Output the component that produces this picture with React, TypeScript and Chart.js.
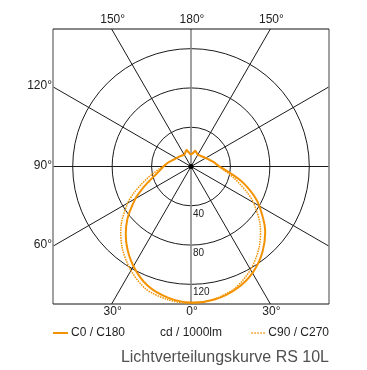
import React, { useEffect, useRef } from "react";
import { Chart, registerables } from "chart.js";

Chart.register(...registerables);

// angles measured from nadir (0°) up to zenith (180°)
const angles = [0, 10, 20, 30, 40, 50, 60, 65, 70, 75, 80, 85, 90, 95, 100, 110, 120, 130, 140, 150, 155, 160, 165, 170, 175, 180];
// cd/1000lm
const c0 = [138.5, 137.5, 133, 125, 113, 98, 80, 70.5, 60.5, 50.5, 41, 34, 29, 26, 24, 20, 17.5, 15.5, 14.5, 14, 14.5, 15.5, 16.5, 14.5, 13, 12];
const c180 = [138.5, 135.5, 129, 117, 102, 84.5, 65, 55, 46, 39, 34, 30.5, 28, 25.5, 23.5, 19.5, 17, 15.5, 14.5, 14, 14.5, 16, 17.5, 15, 13, 12];
const c90 = [139.5, 137, 131.5, 121, 107.5, 91.5, 73, 63, 53, 45, 38, 32, 28, 25.5, 23.5, 19.5, 17, 15.5, 14.5, 14, 14.5, 15.5, 16.5, 15, 13, 12.5];
const c270 = [139.5, 137.5, 133, 122, 108.5, 92.5, 74, 64, 54, 45.5, 38.5, 33, 28.5, 25.5, 23.5, 19.5, 17, 15.5, 14.5, 14, 14.5, 16, 17.5, 15, 13, 12.5];

const maxValue = 140;
const ringValues = [40, 80, 120];
const ringLabels = ["40", "80", "120"];
const spokeAngles = [30, 60, 120, 150];
const angleLabelAngles = [150, 180, 150, 120, 90, 60, 30, 0, 30];
const angleLabelSides = [-1, 0, 1, -1, -1, -1, -1, 0, 1];
const seriesNames = ["C0 / C180", "C90 / C270"];
const unitLabel = "cd / 1000lm";
const titleText = "Lichtverteilungskurve RS 10L";

const ORANGE = "#f39200";
const FONT = "'Liberation Sans', Arial, Helvetica, sans-serif";

function toPoints(left: number[], right: number[]) {
  const pts: { x: number; y: number }[] = [];
  for (let i = angles.length - 1; i >= 0; i--) {
    const a = (angles[i] * Math.PI) / 180;
    pts.push({ x: -left[i] * Math.sin(a), y: -left[i] * Math.cos(a) });
  }
  for (let i = 1; i < angles.length; i++) {
    const a = (angles[i] * Math.PI) / 180;
    pts.push({ x: right[i] * Math.sin(a), y: -right[i] * Math.cos(a) });
  }
  return pts;
}

const polarGrid = {
  id: "polarGrid",
  beforeDatasetsDraw(chart: any) {
    const { ctx, chartArea, scales } = chart;
    const xs = scales.x;
    const ys = scales.y;
    const cx = xs.getPixelForValue(0);
    const cy = ys.getPixelForValue(0);
    const { left, right, top, bottom } = chartArea;
    ctx.save();
    ctx.beginPath();
    ctx.rect(left, top, right - left, bottom - top);
    ctx.clip();
    ctx.strokeStyle = "#1a1a1a";
    ctx.lineWidth = 1;
    // rings
    ringValues.forEach((r) => {
      const rx = xs.getPixelForValue(r) - cx;
      const ry = cy - ys.getPixelForValue(r);
      ctx.beginPath();
      ctx.ellipse(cx, cy, rx, ry, 0, 0, Math.PI * 2);
      ctx.stroke();
    });
    // spokes
    const L = 1000;
    spokeAngles.forEach((deg) => {
      const a = (deg * Math.PI) / 180;
      [-1, 1].forEach((s) => {
        ctx.beginPath();
        ctx.moveTo(cx, cy);
        ctx.lineTo(cx + s * Math.sin(a) * L, cy + Math.cos(a) * L);
        ctx.stroke();
      });
    });
    // horizontal 90° line
    ctx.beginPath();
    ctx.moveTo(left, cy);
    ctx.lineTo(right, cy);
    ctx.stroke();
    ctx.restore();

    ctx.save();
    // vertical 0/180 line (gray)
    ctx.strokeStyle = "#8a8a8a";
    ctx.lineWidth = 1.6;
    ctx.beginPath();
    ctx.moveTo(cx, top);
    ctx.lineTo(cx, bottom);
    ctx.stroke();
    // left/right borders (gray)
    ctx.beginPath();
    ctx.moveTo(left, top);
    ctx.lineTo(left, bottom);
    ctx.moveTo(right, top);
    ctx.lineTo(right, bottom);
    ctx.stroke();
    // top/bottom borders (black)
    ctx.strokeStyle = "#111";
    ctx.lineWidth = 1;
    ctx.beginPath();
    ctx.moveTo(left, top);
    ctx.lineTo(right, top);
    ctx.moveTo(left, bottom);
    ctx.lineTo(right, bottom);
    ctx.stroke();

    // ring labels
    ctx.fillStyle = "#222";
    ctx.font = `10px ${FONT}`;
    ctx.textAlign = "left";
    ctx.textBaseline = "top";
    ringValues.forEach((r, i) => {
      const y = ys.getPixelForValue(-r);
      ctx.fillText(ringLabels[i], cx + 2, y + 3);
    });

    // angle labels
    ctx.font = `12px ${FONT}`;
    angleLabelAngles.forEach((deg, i) => {
      const s = angleLabelSides[i];
      const a = (deg * Math.PI) / 180;
      const dx = s * Math.sin(a);
      const dy = Math.cos(a);
      const tX = Math.abs(dx) < 1e-9 ? Infinity : dx > 0 ? (right - cx) / dx : (left - cx) / dx;
      const tY = Math.abs(dy) < 1e-9 ? Infinity : dy > 0 ? (bottom - cy) / dy : (top - cy) / dy;
      const text = `${deg}°`;
      if (tY <= tX) {
        const x = cx + dx * tY;
        ctx.textAlign = "center";
        ctx.textBaseline = "middle";
        ctx.fillText(text, x + 1, dy > 0 ? bottom + 8 : top - 9);
      } else {
        const y = cy + dy * tX;
        ctx.textAlign = dx < 0 ? "right" : "left";
        ctx.textBaseline = "middle";
        ctx.fillText(text, dx < 0 ? left - 1 : right + 2, y - 1);
      }
    });
    ctx.restore();
  },
  afterDatasetsDraw(chart: any) {
    const { ctx, chartArea, scales } = chart;
    const cx = scales.x.getPixelForValue(0);
    const cy = scales.y.getPixelForValue(0);
    const { left, right, bottom } = chartArea;
    ctx.save();
    // center dot
    ctx.fillStyle = "#000";
    ctx.beginPath();
    ctx.arc(cx, cy, 2.5, 0, Math.PI * 2);
    ctx.fill();

    // legend
    const ly = bottom + 29;
    ctx.font = `12px ${FONT}`;
    ctx.textBaseline = "middle";
    ctx.strokeStyle = ORANGE;
    ctx.lineWidth = 2;
    ctx.beginPath();
    ctx.moveTo(left, ly);
    ctx.lineTo(left + 15, ly);
    ctx.stroke();
    ctx.fillStyle = "#1e1e1e";
    ctx.textAlign = "left";
    ctx.fillText(seriesNames[0], left + 18, ly);

    ctx.textAlign = "center";
    ctx.fillText(unitLabel, cx, ly);

    ctx.textAlign = "right";
    ctx.fillText(seriesNames[1], right, ly);
    const w = ctx.measureText(seriesNames[1]).width;
    ctx.lineWidth = 1.5;
    ctx.setLineDash([1.5, 1.5]);
    ctx.beginPath();
    ctx.moveTo(right - w - 17, ly);
    ctx.lineTo(right - w - 3, ly);
    ctx.stroke();
    ctx.setLineDash([]);

    // title
    ctx.font = `16px ${FONT}`;
    ctx.fillStyle = "#505050";
    ctx.textAlign = "right";
    ctx.textBaseline = "alphabetic";
    ctx.fillText(titleText, right, bottom + 58);
    ctx.restore();
  },
};

export default function App() {
  const ref = useRef<HTMLCanvasElement | null>(null);
  useEffect(() => {
    if (!ref.current) return;
    const chart = new Chart(ref.current, {
      type: "scatter",
      data: {
        datasets: [
          {
            label: seriesNames[0],
            data: toPoints(c180, c0),
            showLine: true,
            borderColor: ORANGE,
            borderWidth: 2,
            pointRadius: 0,
            tension: 0.3,
            fill: false,
          },
          {
            label: seriesNames[1],
            data: toPoints(c270, c90),
            showLine: true,
            borderColor: ORANGE,
            borderWidth: 1.5,
            borderDash: [1.5, 1],
            pointRadius: 0,
            tension: 0.3,
            fill: false,
          },
        ],
      },
      options: {
        responsive: false,
        animation: false,
        layout: { padding: { left: 53, right: 38, top: 29, bottom: 66 } },
        scales: {
          x: { type: "linear", min: -maxValue, max: maxValue, display: false },
          y: { type: "linear", min: -maxValue, max: maxValue, display: false },
        },
        plugins: {
          legend: { display: false },
          title: { display: false },
          tooltip: { enabled: false },
        },
      },
      plugins: [polarGrid],
    } as any);
    return () => chart.destroy();
  }, []);
  return (
    <div style={{ position: "absolute", left: 0, top: 0, width: 367, height: 370, background: "#fff" }}>
      <canvas ref={ref} width={367} height={370} style={{ width: 367, height: 370, display: "block" }} />
    </div>
  );
}
